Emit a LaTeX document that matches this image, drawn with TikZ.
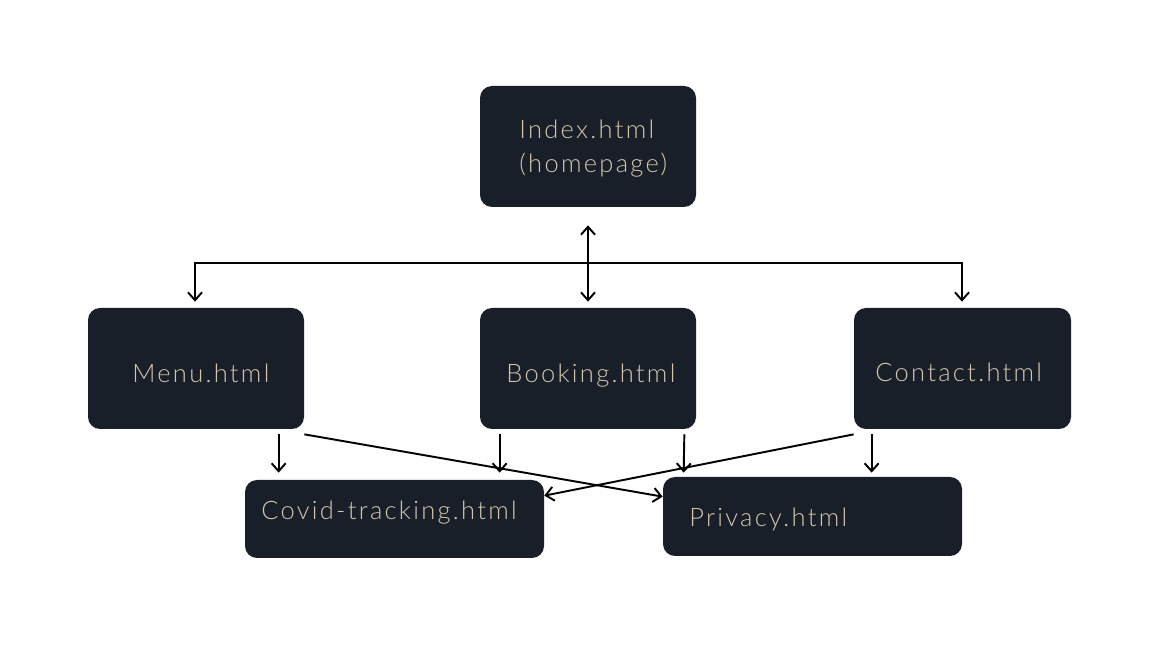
\documentclass[tikz,border=0pt]{standalone}
\usepackage{fontspec}
\setmainfont{Lato Light}[LetterSpace=9]
\usetikzlibrary{arrows.meta,calc}
\definecolor{boxc}{HTML}{181F29}
\definecolor{txtc}{HTML}{D3C6AD}
\tikzset{
  page/.style={fill=boxc, draw=none, rounded corners=0.24cm, inner sep=0pt},
  pagetext/.style={anchor=base west, inner sep=0pt, text=txtc, font=\fontsize{14.5}{17}\selectfont},
  conn/.style={line width=1.1pt, draw=black, arrows={-Straight Barb[length=4.5pt,width=8pt,line width=1.1pt]}},
  biconn/.style={line width=1.1pt, draw=black, arrows={Straight Barb[length=4.5pt,width=8pt,line width=1.1pt]-Straight Barb[length=4.5pt,width=8pt,line width=1.1pt]}}
}
\begin{document}
\begin{tikzpicture}[x=0.02cm,y=-0.02cm]
\useasboundingbox[fill=white] (0,0) rectangle (1161,648);
% boxes
\node[page, minimum width=216*0.02cm, minimum height=121*0.02cm] (index) at (588,146.5) {};
\node[page, minimum width=216*0.02cm, minimum height=121*0.02cm] (menu) at (196,368.5) {};
\node[page, minimum width=216*0.02cm, minimum height=121*0.02cm] (booking) at (588,368.5) {};
\node[page, minimum width=217*0.02cm, minimum height=121*0.02cm] (contact) at (962.5,368.5) {};
\node[page, minimum width=299*0.02cm, minimum height=78*0.02cm] (covid) at (394.5,519) {};
\node[page, minimum width=299*0.02cm, minimum height=79*0.02cm] (privacy) at (812.5,516.5) {};
% texts
\node[pagetext] (tindex) at (519,139) {Index.html};
\node[pagetext] (thome) at (519,173) {(homepage)};
\node[pagetext] (tmenu) at (132,383) {Menu.html};
\node[pagetext] (tbooking) at (506,383) {Booking.html};
\node[pagetext] (tcontact) at (875,382) {Contact.html};
\node[pagetext] (tcovid) at (261,520) {Covid-tracking.html};
\node[pagetext] (tprivacy) at (689,527) {Privacy.html};
% connectors
\draw[biconn] ($(index.south)+(0,18)$) -- ($(booking.north)+(0,-6)$);
\draw[biconn] ($(menu.north)+(-1,-6)$) -- ++(0,-39) -- ++(767,0) -- ++(0,39);
\draw[conn] ($(menu.south west)+(191,5)$) -- ($(covid.north west)+(34,-7)$);
\draw[conn] ($(menu.south east)+(0,5)$) -- ($(privacy.north west)+(0,20)$);
\draw[conn] ($(booking.south west)+(20,5)$) -- ($(covid.north west)+(255,-7)$);
\draw[conn] ($(booking.south east)+(-12,5)$) -- ($(privacy.north west)+(21,-4)$);
\draw[conn] ($(contact.south west)+(0,5)$) -- ($(covid.north east)+(0,16)$);
\draw[conn] ($(contact.south west)+(18,5)$) -- ($(privacy.north west)+(209,-4)$);
\end{tikzpicture}
\end{document}
